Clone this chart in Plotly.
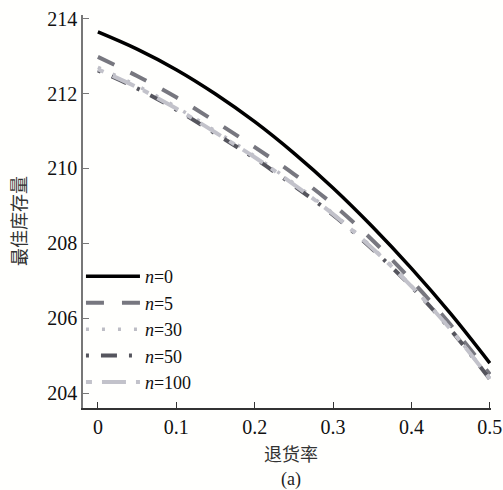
import plotly.graph_objects as go

x_vals = [0, 0.05, 0.1, 0.15, 0.2, 0.25, 0.3, 0.35, 0.4, 0.45, 0.5]
n0 = [213.65, 213.19, 212.64, 211.99, 211.25, 210.41, 209.48, 208.45, 207.33, 206.12, 204.80]
n5 = [212.98, 212.47, 211.90, 211.25, 210.57, 209.85, 209.04, 208.09, 207.01, 205.82, 204.50]
n30 = [212.70, 212.21, 211.64, 211.00, 210.33, 209.60, 208.80, 207.89, 206.86, 205.71, 204.38]
n50 = [212.62, 212.14, 211.57, 210.93, 210.27, 209.54, 208.76, 207.85, 206.84, 205.69, 204.37]
n100 = [212.65, 212.17, 211.60, 210.96, 210.30, 209.57, 208.78, 207.87, 206.85, 205.70, 204.38]
labels = ["<i>n</i>=0", "<i>n</i>=5", "<i>n</i>=30", "<i>n</i>=50", "<i>n</i>=100"]
x_ticks = [0, 0.1, 0.2, 0.3, 0.4, 0.5]
y_ticks = [204, 206, 208, 210, 212, 214]

series = [n0, n5, n30, n50, n100]
styles = [
    dict(color="#000000", width=3.5, dash="solid"),
    dict(color="#77777f", width=4, dash="18px,18px"),
    dict(color="#bdbdc5", width=3.5, dash="3px,13px"),
    dict(color="#55555d", width=4, dash="3px,12px,16px,12px"),
    dict(color="#c2c2ca", width=4, dash="6px,10px,24px,10px"),
]

fig = go.Figure()
for ys, lab, st in zip(series, labels, styles):
    fig.add_trace(go.Scatter(x=x_vals, y=ys, mode="lines", name=lab,
                             line=dict(shape="spline", **st)))

font_serif = "Liberation Serif"
fig.update_layout(
    width=503, height=490,
    margin=dict(l=83, r=12, t=15, b=82),
    paper_bgcolor="#fffffd", plot_bgcolor="#fffffd",
    font=dict(family=font_serif, size=17, color="#111"),
    showlegend=True,
    legend=dict(x=-0.005, y=0.02, xanchor="left", yanchor="bottom",
                bgcolor="rgba(0,0,0,0)", itemwidth=54, tracegroupgap=0,
                font=dict(family=font_serif, size=18), traceorder="normal",
                itemclick=False),
    xaxis=dict(range=[-0.019, 0.5015], tickvals=x_ticks,
               ticktext=[str(v) for v in x_ticks], automargin=False,
               showgrid=False, zeroline=False, showline=True,
               linecolor="#333", linewidth=1.5,
               ticks="inside", ticklen=6, tickcolor="#333", tickwidth=1.2,
               tickfont=dict(family=font_serif, size=20)),
    yaxis=dict(range=[203.6, 214.1], tickvals=y_ticks, automargin=False,
               showgrid=False, zeroline=False, showline=True,
               linecolor="#777", linewidth=1.5,
               ticks="inside", ticklen=6, tickcolor="#777", tickwidth=1.2,
               tickfont=dict(family=font_serif, size=20)),
)
fig.add_annotation(text="最佳库存量", xref="paper", yref="paper",
                   x=-0.159, y=0.476, xanchor="center", yanchor="middle",
                   textangle=-90, showarrow=False,
                   font=dict(family="Noto Sans CJK SC", size=18, color="#333"))
fig.add_annotation(text="退货率", xref="paper", yref="paper",
                   x=0.51, y=-0.115, xanchor="center", yanchor="middle",
                   showarrow=False,
                   font=dict(family="Noto Sans CJK SC", size=18, color="#333"))
fig.add_annotation(text="(a)", xref="paper", yref="paper",
                   x=0.51, y=-0.182, xanchor="center", yanchor="middle",
                   showarrow=False,
                   font=dict(family=font_serif, size=18, color="#222"))
fig.write_html("out.html", config={"displayModeBar": False},
               post_script="document.body.style.margin='0';")
